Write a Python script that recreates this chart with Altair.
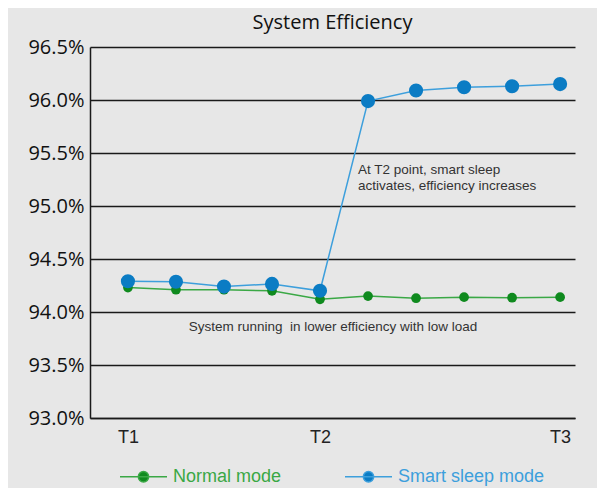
import altair as alt
import pandas as pd

# ---- data ----
steps = list(range(10))
normal_mode = [94.23, 94.21, 94.21, 94.20, 94.12, 94.15, 94.13, 94.14, 94.135, 94.14]
smart_sleep = [94.29, 94.285, 94.24, 94.265, 94.20, 95.99, 96.09, 96.12, 96.13, 96.15]
series_names = ["Normal mode", "Smart sleep mode"]
line_colors = ["#3aa845", "#3d9fdc"]
dot_colors = ["#0f8a1e", "#0b7cc4"]
dot_sizes = [95, 200]
tick_steps = [0, 4, 9]
tick_labels = ["T1", "T2", "T3"]
y_ticks = [93.0, 93.5, 94.0, 94.5, 95.0, 95.5, 96.0, 96.5]

note_left_text = ["At T2 point, smart sleep", "activates, efficiency increases"]
note_left_x = [4.79, 4.79]
note_left_y = [95.34, 95.19]
note_center_text = ["System running \u00a0in lower efficiency with low load"]
note_center_x = [4.27]
note_center_y = [93.86]

rows = []
for name, vals in zip(series_names, [normal_mode, smart_sleep]):
    for s, v in zip(steps, vals):
        rows.append({"step": s, "value": v, "series": name})
df = pd.DataFrame(rows)

label_map = "{" + ",".join(f"{s}:'{l}'" for s, l in zip(tick_steps, tick_labels)) + "}"

x_enc = alt.X(
    "step:Q",
    scale=alt.Scale(domain=[-0.79, 9.31], nice=False, zero=False),
    axis=alt.Axis(
        values=tick_steps,
        labelExpr=f"{label_map}[datum.value]",
        title=None,
        grid=False,
        ticks=False,
        domainColor="#1a1a1a",
        domainWidth=1.5,
        labelFont="Liberation Sans",
        labelFontSize=18,
        labelColor="#222222",
        labelPadding=10,
    ),
)
y_enc = alt.Y(
    "value:Q",
    scale=alt.Scale(domain=[93.0, 96.5], nice=False, zero=False),
    axis=alt.Axis(
        values=y_ticks,
        labelExpr="format(datum.value, '.1f') + '%'",
        title=None,
        grid=True,
        gridColor="#1a1a1a",
        gridWidth=1.5,
        ticks=False,
        domainColor="#1a1a1a",
        domainWidth=1.5,
        labelFont="Liberation Sans Narrow, Open Sans",
        labelFontSize=20,
        labelColor="#111111",
        labelPadding=6,
    ),
)

text_expr = f"datum.label == '{series_names[0]}' ? '{line_colors[0]}' : '{line_colors[1]}'"

legend = alt.Legend(
    title=None,
    orient="none",
    direction="horizontal",
    legendX=29,
    legendY=405,
    symbolType="M-1,0L1,0M0.22,0A0.22,0.22,0,1,1,-0.22,0A0.22,0.22,0,1,1,0.22,0Z",
    symbolSize=2209,
    symbolStrokeWidth=1.5,
    labelFont="Liberation Sans",
    labelFontSize=18,
    labelOffset=5,
    columnPadding=60,
    labelColor={"expr": text_expr},
)

fill_enc = alt.Fill("series:N", scale=alt.Scale(domain=series_names, range=dot_colors), legend=legend)

base = alt.Chart(df)
lines = base.mark_line(strokeWidth=1.5).encode(
    x=x_enc,
    y=y_enc,
    stroke=alt.Stroke("series:N", scale=alt.Scale(domain=series_names, range=line_colors), legend=legend),
    detail="series:N",
)
points_layers = []
for name, sz in zip(series_names, dot_sizes):
    points_layers.append(
        base.transform_filter(alt.datum.series == name)
        .mark_point(filled=True, opacity=1, size=sz)
        .encode(x=x_enc, y=y_enc, fill=fill_enc)
    )

notes_left = alt.Chart(pd.DataFrame({"x": note_left_x, "y": note_left_y, "t": note_left_text})).mark_text(
    align="left", baseline="middle", font="Liberation Sans", fontSize=13.5, color="#333333"
).encode(x="x:Q", y="y:Q", text="t:N")
notes_center = alt.Chart(pd.DataFrame({"x": note_center_x, "y": note_center_y, "t": note_center_text})).mark_text(
    align="center", baseline="middle", font="Liberation Sans", fontSize=13.5, color="#333333"
).encode(x="x:Q", y="y:Q", text="t:N")

chart = (
    alt.layer(lines, *points_layers, notes_left, notes_center)
    .properties(
        width=485,
        height=371,
        title=alt.TitleParams(
            "System Efficiency",
            font="Open Sans",
            fontSize=20,
            fontWeight="normal",
            color="#111111",
            anchor="middle",
            offset=4,
        ),
        background="#e7e7e7",
        padding={"left": 82, "top": 39, "right": 22, "bottom": 70},
        autosize=alt.AutoSizeParams(type="none"),
    )
    .configure_view(stroke=None)
)

chart.save("out.html", embed_options={"renderer": "svg", "actions": False})
